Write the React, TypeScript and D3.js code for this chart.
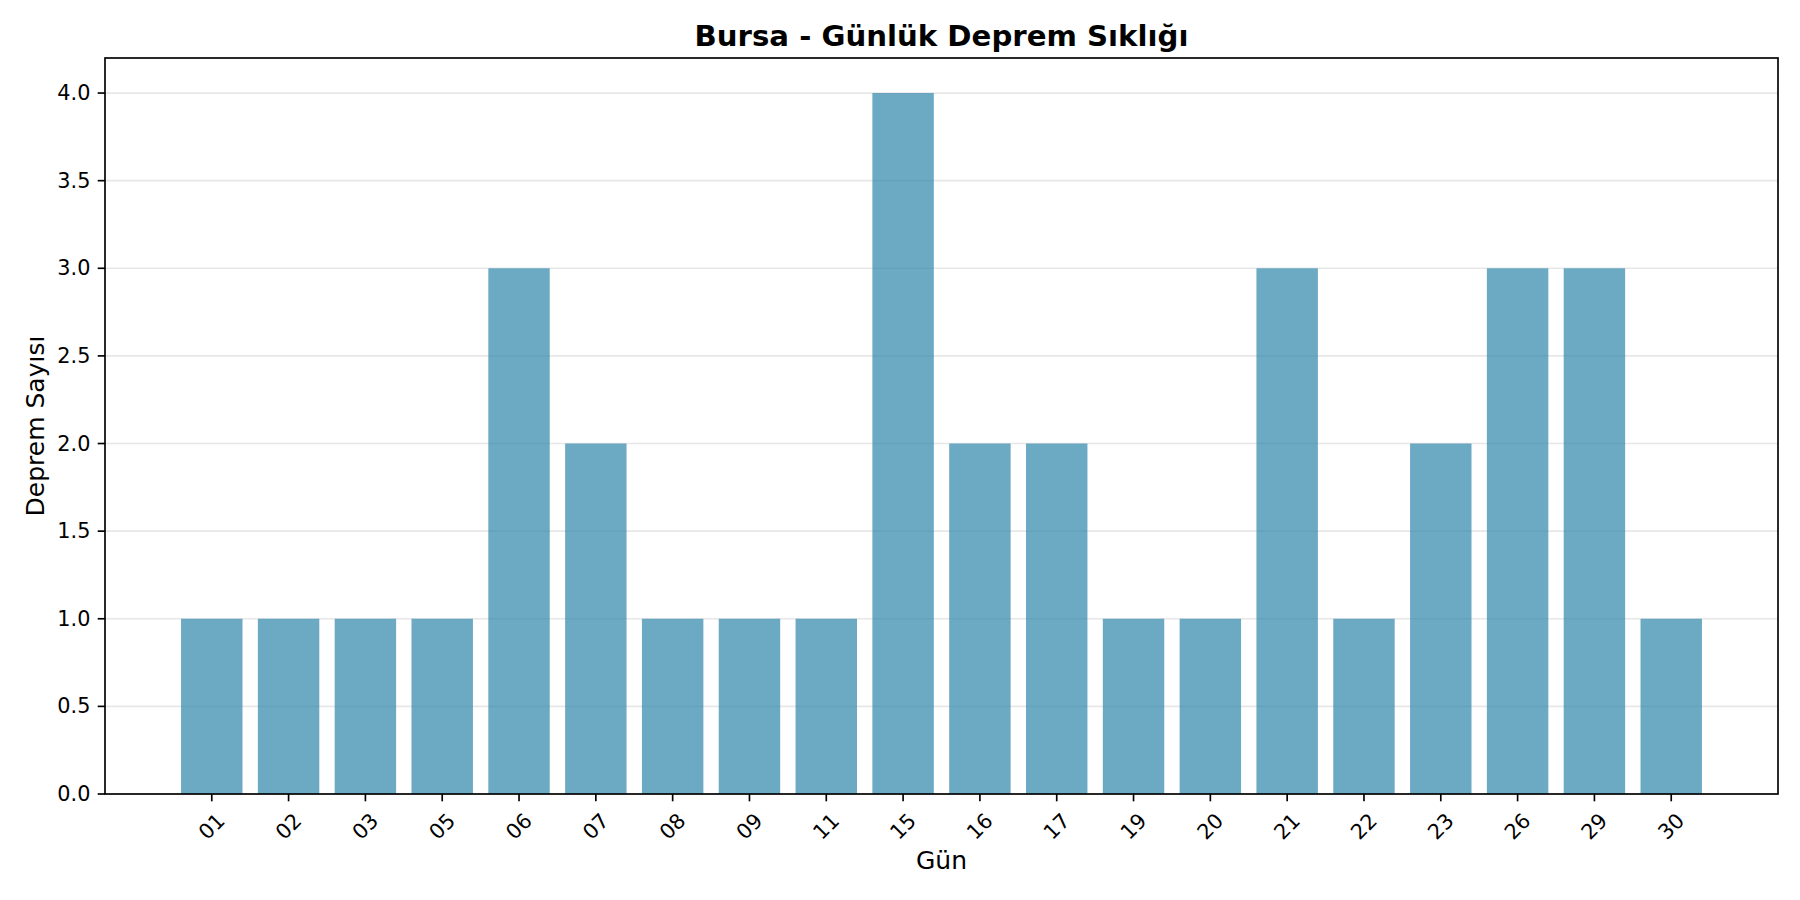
import React from "react";
import * as d3 from "d3";

const days = ["01","02","03","05","06","07","08","09","11","15","16","17","19","20","21","22","23","26","29","30"];
const counts = [1,1,1,1,3,2,1,1,1,4,2,2,1,1,3,1,2,3,3,1];
const yTicks = [0,0.5,1,1.5,2,2.5,3,3.5,4];
const title = "Bursa - Günlük Deprem Sıklığı";
const xLabel = "Gün";
const yLabel = "Deprem Sayısı";

const W = 1800, H = 900;
const left = 105, right = 1778, top = 58, bottom = 794;
const barW = 0.8;
const FONT = "DejaVu Sans, sans-serif";

export default function App() {
  const n = days.length;
  const lo = -barW / 2, hi = n - 1 + barW / 2;
  const m = (hi - lo) * 0.05;
  const x = d3.scaleLinear().domain([lo - m, hi + m]).range([left, right]);
  const yMax = d3.max(counts)! * 1.05;
  const y = d3.scaleLinear().domain([0, yMax]).range([bottom, top]);
  const tickLen = 7.3, pad = 7.3;
  const labelCenterY = bottom + tickLen + pad + 17.9;

  return (
    <svg width={W} height={H} viewBox={`0 0 ${W} ${H}`} style={{ position: "absolute", left: 0, top: 0, background: "#fff" }} fontFamily={FONT}>
      <rect x={0} y={0} width={W} height={H} fill="#fff" />
      {yTicks.map((t) => (
        <line key={"g" + t} x1={left} x2={right} y1={y(t)} y2={y(t)} stroke="#b0b0b0" strokeOpacity={0.3} strokeWidth={1.67} />
      ))}
      {counts.map((c, i) => (
        <rect key={"b" + i} x={x(i - barW / 2)} width={x(i + barW / 2) - x(i - barW / 2)} y={y(c)} height={y(0) - y(c)} fill="#2E86AB" fillOpacity={0.7} />
      ))}
      {/* spines */}
      <rect x={left} y={top} width={right - left} height={bottom - top} fill="none" stroke="#000" strokeWidth={1.67} />
      {yTicks.map((t) => (
        <g key={"yt" + t}>
          <line x1={left - tickLen} x2={left} y1={y(t)} y2={y(t)} stroke="#000" strokeWidth={1.67} />
          <text x={left - tickLen - pad} y={y(t)} textAnchor="end" dominantBaseline="central" fontSize={20.8} fill="#000">{t.toFixed(1)}</text>
        </g>
      ))}
      {days.map((d, i) => (
        <g key={"xt" + d}>
          <line x1={x(i)} x2={x(i)} y1={bottom} y2={bottom + tickLen} stroke="#000" strokeWidth={1.67} />
          <text transform={`translate(${x(i)},${labelCenterY}) rotate(-45)`} textAnchor="middle" dominantBaseline="central" fontSize={20.8} fill="#000">{d}</text>
        </g>
      ))}
      <text x={(left + right) / 2} y={869} textAnchor="middle" fontSize={25} fill="#000">{xLabel}</text>
      <text transform={`translate(43.5,${(top + bottom) / 2}) rotate(-90)`} textAnchor="middle" fontSize={25} fill="#000">{yLabel}</text>
      <text x={(left + right) / 2} y={45.5} textAnchor="middle" fontSize={29.2} fontWeight="bold" fill="#000">{title}</text>
    </svg>
  );
}
